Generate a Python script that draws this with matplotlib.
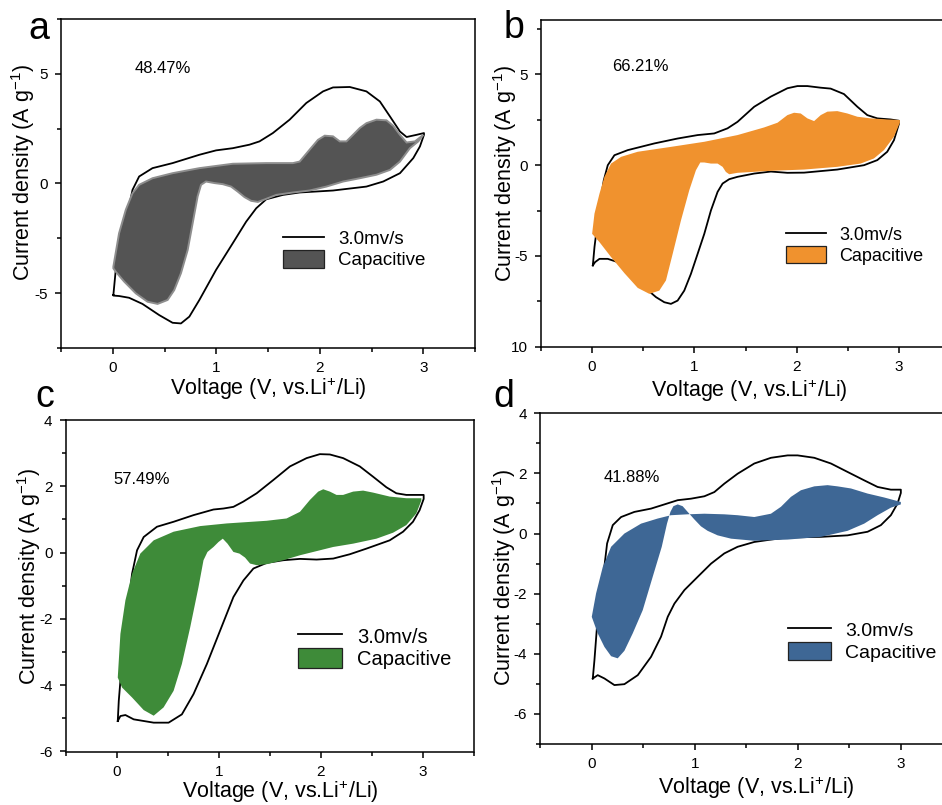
import numpy as np
import matplotlib
matplotlib.use("Agg")
import matplotlib.pyplot as plt
from matplotlib.lines import Line2D
from matplotlib.patches import Patch
from matplotlib.ticker import MultipleLocator

plt.rcParams['font.family'] = ['Liberation Sans', 'DejaVu Sans']
plt.rcParams['mathtext.fontset'] = 'custom'
plt.rcParams['mathtext.rm'] = 'Liberation Sans'
plt.rcParams['mathtext.it'] = 'Liberation Sans:italic'
plt.rcParams['axes.unicode_minus'] = False

# ---- panel a : CV loop (anodic sweep, then cathodic sweep) ----
a_up_v = [0.006, 0.029, 0.110, 0.191, 0.255, 0.384, 0.578, 0.837, 0.998, 1.160, 1.321, 1.418, 1.547,
          1.709, 1.870, 2.032, 2.128, 2.290, 2.451, 2.581, 2.678, 2.775, 2.839, 2.936, 3.007]
a_up_i = [-5.08, -3.94, -2.12, -0.29, 0.32, 0.70, 0.93, 1.31, 1.51, 1.61, 1.77, 1.92, 2.30,
          2.91, 3.67, 4.20, 4.38, 4.40, 4.20, 3.74, 3.06, 2.37, 2.12, 2.22, 2.30]
a_dn_v = [3.007, 2.968, 2.904, 2.775, 2.613, 2.451, 2.128, 1.806, 1.644, 1.483, 1.386, 1.289, 1.160,
          0.998, 0.837, 0.740, 0.659, 0.578, 0.449, 0.287, 0.158, 0.061, 0.006]
a_dn_i = [2.22, 1.69, 1.16, 0.47, 0.09, -0.14, -0.32, -0.41, -0.52, -0.72, -1.13, -1.74, -2.72,
          -3.94, -5.31, -6.07, -6.38, -6.35, -6.00, -5.49, -5.21, -5.13, -5.11]
# capacitive contribution, panel a
a_cap_up_v = [0.006, 0.061, 0.126, 0.191, 0.255, 0.384, 0.578, 0.837, 1.160, 1.483, 1.741, 1.806, 1.902, 1.983,
              2.048, 2.128, 2.193, 2.258, 2.322, 2.387, 2.451, 2.548, 2.645, 2.710, 2.775, 2.839, 2.920, 3.001]
a_cap_up_i = [-3.79, -2.27, -1.20, -0.44, -0.06, 0.24, 0.47, 0.70, 0.90, 0.93, 0.93, 1.00, 1.54, 1.99,
              2.18, 2.15, 1.92, 1.92, 2.22, 2.53, 2.75, 2.91, 2.88, 2.63, 2.22, 1.87, 1.92, 2.22]
a_cap_dn_v = [2.952, 2.871, 2.775, 2.678, 2.548, 2.387, 2.226, 2.064, 1.902, 1.741, 1.580, 1.483, 1.402, 1.337,
              1.273, 1.208, 1.143, 1.063, 0.982, 0.901, 0.853, 0.820, 0.772, 0.724, 0.659, 0.594, 0.530, 0.433,
              0.336, 0.223, 0.110, 0.029, 0.006]
a_cap_dn_i = [1.92, 1.61, 1.00, 0.62, 0.40, 0.24, 0.09, -0.14, -0.32, -0.41, -0.52, -0.70, -0.84, -0.79,
              -0.62, -0.37, -0.14, -0.03, 0.02, 0.09, -0.06, -0.59, -1.81, -3.03, -4.09, -4.86, -5.31, -5.49,
              -5.39, -5.01, -4.47, -4.02, -3.87]

# ---- panel b ----
b_up_v = [0.007, 0.023, 0.072, 0.114, 0.153, 0.218, 0.348, 0.609, 0.836, 1.032, 1.194, 1.324, 1.422,
          1.585, 1.748, 1.910, 2.008, 2.105, 2.236, 2.333, 2.463, 2.594, 2.691, 2.789, 2.919, 3.000]
b_up_i = [-5.52, -4.51, -2.30, -0.83, 0.00, 0.55, 0.83, 1.20, 1.47, 1.66, 1.75, 2.03, 2.39,
          3.22, 3.78, 4.24, 4.36, 4.36, 4.27, 4.22, 3.92, 3.22, 2.76, 2.58, 2.52, 2.45]
b_dn_v = [3.000, 2.952, 2.886, 2.789, 2.659, 2.398, 2.073, 1.910, 1.748, 1.585, 1.422, 1.341, 1.276,
          1.227, 1.162, 1.097, 1.032, 0.966, 0.901, 0.836, 0.771, 0.706, 0.625, 0.511, 0.381, 0.251,
          0.153, 0.072, 0.029, 0.007]
b_dn_i = [2.27, 1.38, 0.74, 0.28, 0.00, -0.24, -0.41, -0.42, -0.35, -0.46, -0.64, -0.77, -1.01,
          -1.47, -2.49, -3.78, -4.88, -5.99, -6.91, -7.46, -7.64, -7.55, -7.27, -6.72, -5.89, -5.34,
          -5.16, -5.16, -5.34, -5.52]
b_cap_up_v = [0.000, 0.023, 0.072, 0.120, 0.185, 0.283, 0.446, 0.771, 1.097, 1.422, 1.682, 1.813, 1.910,
              1.975, 2.040, 2.105, 2.171, 2.236, 2.301, 2.398, 2.496, 2.594, 2.724, 2.886, 3.010]
b_cap_up_i = [-3.78, -2.67, -1.57, -0.64, 0.09, 0.46, 0.74, 1.01, 1.29, 1.66, 2.08, 2.34, 2.76,
              2.89, 2.85, 2.58, 2.43, 2.76, 2.95, 2.98, 2.85, 2.67, 2.58, 2.52, 2.49]
b_cap_dn_v = [3.010, 2.952, 2.854, 2.756, 2.626, 2.398, 2.073, 1.748, 1.422, 1.341, 1.308, 1.276, 1.227,
              1.162, 1.097, 1.058, 1.015, 0.950, 0.869, 0.788, 0.722, 0.657, 0.560, 0.446, 0.316, 0.185,
              0.072, 0.000]
b_cap_dn_i = [2.34, 1.57, 0.83, 0.37, 0.09, -0.09, -0.24, -0.31, -0.42, -0.50, -0.37, -0.09, 0.09,
              0.09, 0.15, 0.15, -0.28, -1.38, -3.04, -4.88, -6.35, -6.91, -7.09, -6.76, -5.95, -5.06,
              -4.24, -3.78]

# ---- panel c ----
c_up_v = [0.010, 0.020, 0.052, 0.101, 0.150, 0.199, 0.264, 0.394, 0.557, 0.752, 0.948, 1.046, 1.143,
          1.241, 1.371, 1.534, 1.697, 1.860, 1.990, 2.088, 2.218, 2.381, 2.511, 2.642, 2.739, 2.837, 3.007]
c_up_i = [-5.08, -4.47, -3.26, -1.95, -0.64, 0.07, 0.47, 0.78, 0.93, 1.13, 1.30, 1.33, 1.38,
          1.54, 1.79, 2.19, 2.60, 2.85, 2.97, 2.96, 2.85, 2.60, 2.29, 1.97, 1.79, 1.74, 1.74]
c_dn_v = [3.007, 2.967, 2.902, 2.805, 2.674, 2.446, 2.283, 2.121, 1.958, 1.795, 1.632, 1.469, 1.339,
          1.241, 1.143, 1.013, 0.883, 0.752, 0.638, 0.508, 0.362, 0.166, 0.085, 0.036, 0.010]
c_dn_i = [1.62, 1.28, 0.93, 0.63, 0.37, 0.12, -0.05, -0.18, -0.21, -0.19, -0.23, -0.31, -0.48,
          -0.84, -1.34, -2.35, -3.36, -4.27, -4.88, -5.13, -5.13, -5.03, -4.90, -4.93, -5.08]
c_cap_up_v = [0.010, 0.036, 0.085, 0.150, 0.231, 0.362, 0.557, 0.818, 1.078, 1.469, 1.664, 1.795, 1.893,
              1.974, 2.023, 2.088, 2.153, 2.218, 2.316, 2.414, 2.511, 2.674, 2.837, 2.984]
c_cap_up_i = [-3.77, -2.45, -1.44, -0.64, -0.03, 0.37, 0.63, 0.80, 0.88, 0.96, 1.03, 1.23, 1.59,
              1.84, 1.91, 1.84, 1.74, 1.74, 1.84, 1.87, 1.81, 1.69, 1.64, 1.64]
c_cap_dn_v = [2.984, 2.935, 2.837, 2.707, 2.544, 2.316, 2.121, 1.795, 1.632, 1.469, 1.371, 1.306, 1.257,
              1.202, 1.143, 1.085, 1.039, 0.997, 0.948, 0.889, 0.850, 0.801, 0.720, 0.638, 0.557, 0.459,
              0.362, 0.264, 0.150, 0.052, 0.010]
c_cap_dn_i = [1.57, 1.18, 0.83, 0.60, 0.42, 0.27, 0.17, -0.08, -0.23, -0.35, -0.38, -0.33, -0.15,
              -0.03, 0.02, 0.27, 0.42, 0.32, 0.17, 0.02, -0.23, -1.04, -2.25, -3.36, -4.17, -4.67,
              -4.92, -4.75, -4.37, -4.07, -3.77]

# ---- panel d ----
d_up_v = [0.010, 0.026, 0.058, 0.107, 0.149, 0.204, 0.285, 0.414, 0.576, 0.706, 0.835, 0.964, 1.094,
          1.191, 1.288, 1.417, 1.579, 1.741, 1.903, 2.000, 2.162, 2.324, 2.485, 2.647, 2.777, 2.906, 3.003]
d_up_i = [-4.82, -4.21, -2.77, -1.55, -0.33, 0.28, 0.55, 0.72, 0.83, 0.97, 1.11, 1.16, 1.24,
          1.38, 1.66, 1.99, 2.33, 2.52, 2.60, 2.60, 2.52, 2.33, 2.05, 1.77, 1.55, 1.46, 1.46]
d_dn_v = [3.003, 2.971, 2.906, 2.809, 2.680, 2.485, 2.227, 1.903, 1.741, 1.579, 1.417, 1.288, 1.159,
          1.029, 0.900, 0.803, 0.738, 0.673, 0.576, 0.447, 0.317, 0.220, 0.123, 0.058, 0.010]
d_dn_i = [1.35, 1.00, 0.61, 0.28, 0.06, -0.06, -0.11, -0.13, -0.20, -0.28, -0.44, -0.66, -1.00,
          -1.44, -1.88, -2.33, -2.77, -3.43, -4.10, -4.71, -5.01, -5.04, -4.82, -4.71, -4.82]
d_cap_up_v = [0.000, 0.042, 0.107, 0.188, 0.317, 0.479, 0.641, 0.770, 0.932, 1.094, 1.288, 1.417, 1.579,
              1.741, 1.838, 1.935, 2.032, 2.162, 2.291, 2.388, 2.518, 2.680, 2.841, 3.003]
d_cap_up_i = [-2.77, -1.99, -1.11, -0.44, 0.00, 0.33, 0.50, 0.61, 0.64, 0.66, 0.64, 0.61, 0.55,
              0.66, 0.89, 1.22, 1.44, 1.57, 1.61, 1.57, 1.50, 1.33, 1.20, 1.05]
d_cap_dn_v = [3.003, 2.906, 2.777, 2.647, 2.485, 2.227, 1.903, 1.579, 1.353, 1.223, 1.126, 1.061, 0.997,
              0.932, 0.883, 0.835, 0.793, 0.764, 0.731, 0.680, 0.592, 0.495, 0.398, 0.317, 0.252, 0.188,
              0.123, 0.058, 0.000]
d_cap_dn_i = [0.97, 0.86, 0.61, 0.33, 0.09, -0.11, -0.20, -0.24, -0.17, -0.06, 0.09, 0.24, 0.47,
              0.72, 0.91, 0.97, 0.91, 0.72, 0.33, -0.44, -1.44, -2.55, -3.32, -3.90, -4.15, -4.08,
              -3.77, -3.32, -2.77]

percent = ['48.47%', '66.21%', '57.49%', '41.88%']
letters = ['a', 'b', 'c', 'd']
fill_colors = ['#545454', '#F0922E', '#3E8B39', '#3E6795']

fig = plt.figure(figsize=(9.42, 8.05), dpi=100)
W, H = 942.0, 805.0


def px_axes(left, top, right, bottom):
    return fig.add_axes([left / W, 1 - bottom / H, (right - left) / W, (bottom - top) / H])


def draw_panel(ax, up_v, up_i, dn_v, dn_i, cu_v, cu_i, cd_v, cd_i, color, edge):
    loop_v = up_v + dn_v + [up_v[0]]
    loop_i = up_i + dn_i + [up_i[0]]
    cap_v = cu_v + cd_v
    cap_i = cu_i + cd_i
    ax.plot(loop_v, loop_i, color='black', lw=1.3, zorder=2, solid_joinstyle='round')
    ax.fill(cap_v, cap_i, facecolor=color, edgecolor=edge, lw=1.4 if edge != 'none' else 0, zorder=3)


def style_axes(ax, ylim, ymaj, ymin):
    ax.set_xlim(-0.5, 3.5)
    ax.set_ylim(*ylim)
    ax.xaxis.set_major_locator(MultipleLocator(1))
    ax.xaxis.set_minor_locator(MultipleLocator(0.5))
    ax.yaxis.set_major_locator(MultipleLocator(ymaj))
    ax.yaxis.set_minor_locator(MultipleLocator(ymin))
    ax.tick_params(which='both', direction='out', top=False, right=False, width=1.1, labelsize=11, pad=5)
    ax.tick_params(which='major', length=4.5)
    ax.tick_params(which='minor', length=3)
    for s in ax.spines.values():
        s.set_linewidth(1.1)


panels = [
    dict(box=(61, 19, 475, 348), ylim=(-7.5, 7.5), ymaj=5, ymin=2.5,
         data=(a_up_v, a_up_i, a_dn_v, a_dn_i, a_cap_up_v, a_cap_up_i, a_cap_dn_v, a_cap_dn_i),
         edge='#8e8e8e', txt=(0.21, 5.24), xl=(0.5, -0.085), yl=(-0.057, 0.533),
         leg=(0.536, 0.362), lfs=13.5, letter=(28, 39)),
    dict(box=(541, 20, 950, 346.7), ylim=(-10, 8), ymaj=5, ymin=2.5,
         data=(b_up_v, b_up_i, b_dn_v, b_dn_i, b_cap_up_v, b_cap_up_i, b_cap_dn_v, b_cap_dn_i),
         edge='none', txt=(0.20, 5.43), xl=(0.509, -0.093), yl=(-0.053, 0.53),
         leg=(0.599, 0.371), lfs=13, letter=(504, 38)),
    dict(box=(65.7, 420, 474, 751.5), ylim=(-6, 4), ymaj=2, ymin=1,
         data=(c_up_v, c_up_i, c_dn_v, c_dn_i, c_cap_up_v, c_cap_up_i, c_cap_dn_v, c_cap_dn_i),
         edge='none', txt=(-0.03, 2.21), xl=(0.525, -0.082), yl=(-0.055, 0.527),
         leg=(0.568, 0.378), lfs=14.5, letter=(35, 407)),
    dict(box=(540.3, 413.3, 952, 744), ylim=(-7, 4), ymaj=2, ymin=1,
         data=(d_up_v, d_up_i, d_dn_v, d_dn_i, d_cap_up_v, d_cap_up_i, d_cap_dn_v, d_cap_dn_i),
         edge='none', txt=(0.12, 1.88), xl=(0.524, -0.091), yl=(-0.055, 0.503),
         leg=(0.601, 0.374), lfs=14, letter=(493, 407)),
]

for k, p in enumerate(panels):
    ax = px_axes(*p['box'])
    draw_panel(ax, *p['data'], fill_colors[k], p['edge'])
    style_axes(ax, p['ylim'], p['ymaj'], p['ymin'])
    if k == 1:
        ax.set_yticks([-10, -5, 0, 5])
        ax.set_yticklabels(['10', '-5', '0', '5'])
    ax.text(p['txt'][0], p['txt'][1], percent[k], fontsize=12, ha='left', va='center')
    ax.set_xlabel(r'Voltage (V, vs.Li$^{\mathregular{ +}}$/Li)', fontsize=15.5)
    ax.set_ylabel(r'Current density (A g$^{\mathregular{-1}}$)', fontsize=15.5)
    ax.xaxis.set_label_coords(*p['xl'])
    ax.yaxis.set_label_coords(*p['yl'])
    handles = [Line2D([], [], color='black', lw=1.3),
               Patch(facecolor=fill_colors[k], edgecolor='#222222', lw=0.9)]
    ax.legend(handles, ['3.0mv/s', 'Capacitive'], loc='upper left', bbox_to_anchor=p['leg'],
              frameon=False, fontsize=p['lfs'], borderpad=0, borderaxespad=0,
              handlelength=2.2, handleheight=1.1, handletextpad=0.75, labelspacing=0.08)
    fig.text(p['letter'][0] / W, 1 - p['letter'][1] / H, letters[k], fontsize=27,
             ha='left', va='baseline')

fig.savefig('out.png', dpi=100)
